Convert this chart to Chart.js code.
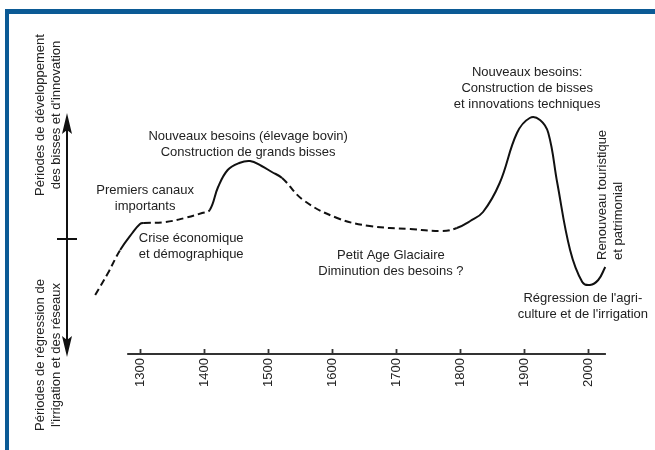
<!DOCTYPE html>
<html lang="fr">
<head>
<meta charset="utf-8">
<title>Bisses</title>
<script src="https://cdn.jsdelivr.net/npm/chart.js@4/dist/chart.umd.min.js"></script>
<style>
  html, body { margin: 0; padding: 0; background: #fff; }
  canvas { display: block; }
</style>
</head>
<body>
<canvas id="chart" width="655" height="450"></canvas>
<script>
// courbe (niveau relatif, 0 = ligne neutre)
const years  = [1230, 1250, 1269, 1288, 1300, 1306, 1340, 1370, 1397, 1409, 1422, 1437, 1455, 1472, 1490, 1506, 1522, 1555, 1608, 1659, 1722, 1773, 1795, 1816, 1836, 1862, 1889, 1909, 1925, 1938, 1952, 1972, 1991, 2003, 2016, 2027];
const levels = [-56, -34, -11, 6, 15, 16, 17, 21, 26, 29, 52, 69, 76, 78, 73, 67, 61, 39, 21, 13, 10, 8, 11, 18, 27, 56, 106, 121, 119, 106, 56, -11, -43, -46, -41, -28];
// 1 = troncon en pointille (segment qui part de ce point)
const dashed = [1,1,0,0,0,1,1,1,1,0,0,0,0,0,0,0,1,1,1,1,1,1,0,0,0,0,0,0,0,0,0,0,0,0,0];
const tickYears = [1300, 1400, 1500, 1600, 1700, 1800, 1900, 2000];

// textes (position en annees / niveau)
const noteYears  = [1469, 1308, 1380, 1692, 1905, 1992];
const noteLevels = [103, 49, 1, -16, 167, -59];
const noteLines  = [
  ['Nouveaux besoins (élevage bovin)', 'Construction de grands bisses'],
  ['Premiers canaux', 'importants'],
  ['Crise économique', 'et démographique'],
  ['Petit Age Glaciaire', 'Diminution des besoins ?'],
  ['Nouveaux besoins:', 'Construction de bisses', 'et innovations techniques'],
  ["Régression de l'agri-", "culture et de l'irrigation"]
];
const sideNote = ['Renouveau touristique', 'et patrimonial'];
const upLabel = ['Périodes de développement', "des bisses et d'innovation"];
const downLabel = ['Périodes de régression de', "l'irrigation et des réseaux"];

const FAMILY = '"Liberation Sans", Arial, Helvetica, sans-serif';
const FONT = '13px ' + FAMILY;
const INK = '#222';
const LH = 16;

const decor = {
  id: 'decor',
  afterDraw(chart) {
    const ctx = chart.ctx;
    const x = chart.scales.x, y = chart.scales.y;
    ctx.save();

    // cadre bleu
    ctx.fillStyle = '#0b5a95';
    ctx.fillRect(5, 9, 650, 5);
    ctx.fillRect(5, 9, 4, 441);

    // axe du temps
    const y0 = chart.chartArea.bottom;
    ctx.strokeStyle = '#333';
    ctx.lineWidth = 1.8;
    ctx.beginPath();
    ctx.moveTo(x.getPixelForValue(1280), y0);
    ctx.lineTo(x.getPixelForValue(2028), y0);
    tickYears.forEach(t => {
      const px = Math.round(x.getPixelForValue(t)) + 0.5;
      ctx.moveTo(px, y0);
      ctx.lineTo(px, y0 - 5);
    });
    ctx.stroke();

    // fleche verticale
    const ax = 67;
    const top = y.getPixelForValue(126), bot = y.getPixelForValue(-118), mid = y.getPixelForValue(0);
    ctx.strokeStyle = '#111';
    ctx.lineWidth = 2;
    ctx.beginPath();
    ctx.moveTo(ax, top + 10);
    ctx.lineTo(ax, bot - 10);
    ctx.moveTo(ax - 10, mid);
    ctx.lineTo(ax + 10, mid);
    ctx.stroke();
    ctx.fillStyle = '#111';
    ctx.beginPath();
    ctx.moveTo(ax, top);
    ctx.lineTo(ax - 5, top + 21);
    ctx.lineTo(ax, top + 17);
    ctx.lineTo(ax + 5, top + 21);
    ctx.closePath();
    ctx.moveTo(ax, bot);
    ctx.lineTo(ax - 5, bot - 21);
    ctx.lineTo(ax, bot - 17);
    ctx.lineTo(ax + 5, bot - 21);
    ctx.closePath();
    ctx.fill();

    // annotations
    ctx.font = FONT;
    ctx.fillStyle = INK;
    ctx.textAlign = 'center';
    ctx.textBaseline = 'middle';
    noteLines.forEach((lines, i) => {
      const px = x.getPixelForValue(noteYears[i]);
      const py = y.getPixelForValue(noteLevels[i]);
      lines.forEach((s, k) => ctx.fillText(s, px, py + k * LH));
    });

    // textes verticaux
    const vtext = (lines, cx, cy, align) => {
      ctx.save();
      ctx.translate(cx, cy);
      ctx.rotate(-Math.PI / 2);
      ctx.textAlign = align;
      lines.forEach((s, k) => ctx.fillText(s, 0, k * LH));
      ctx.restore();
    };
    vtext(sideNote, x.getPixelForValue(2022), y.getPixelForValue(-21), 'left');
    vtext(upLabel, 40, y.getPixelForValue(124), 'center');
    vtext(downLabel, 40, y.getPixelForValue(-116), 'center');

    ctx.restore();
  }
};

new Chart(document.getElementById('chart'), {
  type: 'line',
  data: {
    datasets: [{
      data: years.map((yr, i) => ({ x: yr, y: levels[i] })),
      borderColor: '#111',
      borderWidth: 2,
      pointRadius: 0,
      tension: 0.4,
      clip: false,
      segment: {
        borderDash: c => dashed[c.p0DataIndex] ? [7, 4] : []
      }
    }]
  },
  options: {
    responsive: false,
    animation: false,
    events: [],
    layout: { padding: { left: 92, right: 35, top: 24, bottom: 0 } },
    plugins: { legend: { display: false }, tooltip: { enabled: false } },
    scales: {
      x: {
        type: 'linear',
        min: 1225,
        max: 2050,
        afterBuildTicks: s => { s.ticks = tickYears.map(v => ({ value: v })); },
        afterFit: s => { s.height = 96; },
        grid: { display: false, drawTicks: false },
        border: { display: false },
        ticks: {
          minRotation: 90,
          maxRotation: 90,
          padding: 4,
          color: INK,
          font: { family: FAMILY, size: 13 },
          callback: v => String(v)
        }
      },
      y: {
        display: false,
        min: -115,
        max: 215
      }
    }
  },
  plugins: [decor]
});
</script>
</body>
</html>
